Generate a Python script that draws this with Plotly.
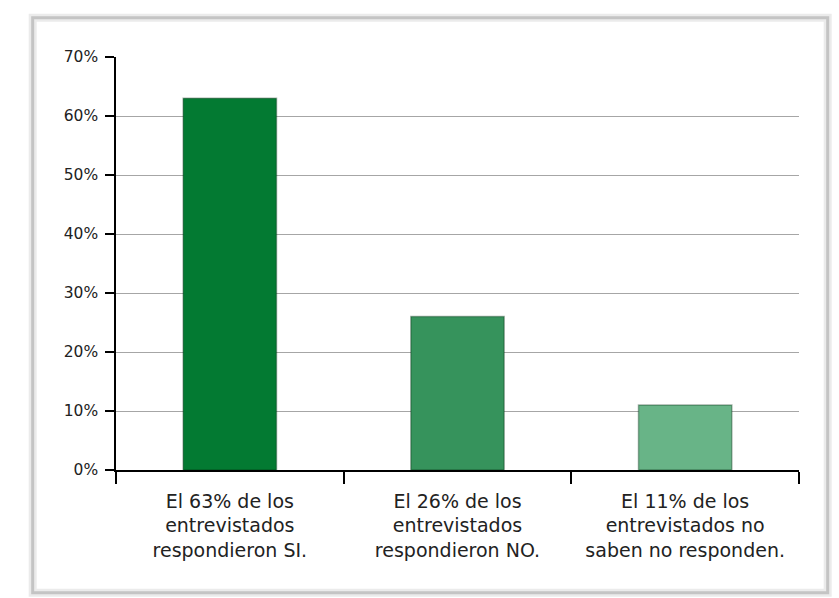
import plotly.graph_objects as go

categories = [
    "El 63% de los<br>entrevistados<br>respondieron SI.",
    "El 26% de los<br>entrevistados<br>respondieron NO.",
    "El 11% de los<br>entrevistados no<br>saben no responden.",
]
values = [0.63, 0.26, 0.11]
bar_colors = ["#037a32", "#36935c", "#68b487"]
y_ticks = [0, 0.1, 0.2, 0.3, 0.4, 0.5, 0.6, 0.7]
y_tick_text = ["0%", "10%", "20%", "30%", "40%", "50%", "60%", "70%"]

font_family = "'DejaVu Sans', sans-serif"

fig = go.Figure()
fig.add_trace(go.Bar(
    x=categories,
    y=values,
    width=0.41,
    marker=dict(color=bar_colors, line=dict(color="rgba(0,40,15,0.35)", width=1.5)),
    hoverinfo="skip",
))

fig.update_layout(
    width=839,
    height=598,
    margin=dict(l=116, r=40, t=57, b=128),
    paper_bgcolor="white",
    plot_bgcolor="white",
    showlegend=False,
    font=dict(family=font_family, color="#222222"),
    xaxis=dict(
        type="category",
        tickson="boundaries",
        ticks="outside",
        ticklen=12,
        tickwidth=1.5,
        tickcolor="black",
        showline=True,
        linecolor="black",
        linewidth=1.5,
        showgrid=False,
        ticklabelstandoff=13,
        tickfont=dict(size=19, family=font_family, color="#222222"),
    ),
    yaxis=dict(
        range=[0, 0.7],
        tickvals=y_ticks,
        ticktext=y_tick_text,
        ticks="outside",
        ticklen=9,
        tickwidth=1.5,
        tickcolor="black",
        showline=True,
        linecolor="black",
        linewidth=1.5,
        showgrid=True,
        gridcolor="#a6a6a6",
        gridwidth=1.2,
        zeroline=False,
        ticklabelstandoff=4,
        tickfont=dict(size=15.5, family=font_family, color="#222222"),
    ),
    shapes=[
        # outer soft frame around the chart
        dict(type="rect", xref="paper", yref="paper", layer="below",
             x0=-0.122, x1=1.042, y0=-0.297, y1=1.095,
             line=dict(color="#ebebeb", width=8)),
        dict(type="rect", xref="paper", yref="paper", layer="below",
             x0=-0.122, x1=1.042, y0=-0.297, y1=1.095,
             line=dict(color="#c4c4c4", width=3)),
    ],
)

fig.write_html("out.html")
